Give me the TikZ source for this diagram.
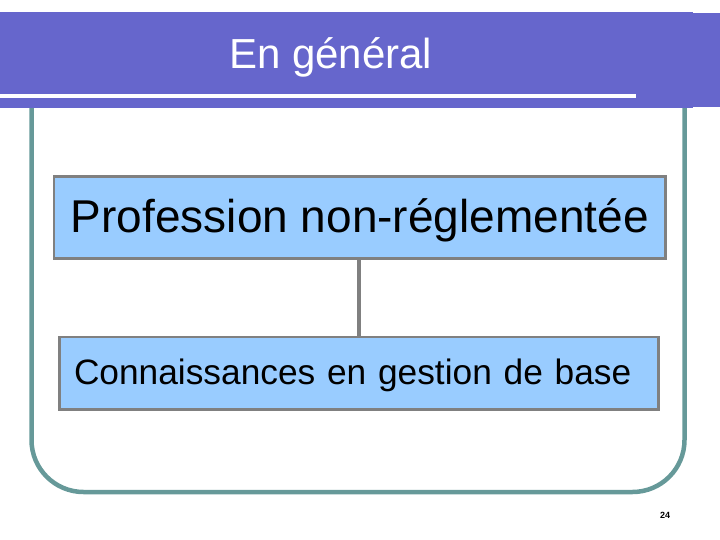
\documentclass[tikz,border=0pt]{standalone}
\usepackage{fontspec}
\setmainfont{Liberation Sans}
\definecolor{barpurple}{HTML}{6666CC}
\definecolor{frameteal}{HTML}{669999}
\definecolor{boxblue}{HTML}{99CCFF}
\definecolor{boxgray}{HTML}{808080}
\begin{document}
\begin{tikzpicture}[x=1pt,y=-1pt,
    orgbox/.style={draw=boxgray,fill=boxblue,line width=2.8pt,inner sep=0pt,text=black},
    link/.style={draw=boxgray,line width=3.4pt}]
    \useasboundingbox (0,0) rectangle (720,540);
    % rounded frame below the title bar
    \draw[frameteal,line width=4.5pt,rounded corners=52pt] (31.5,104) |- (684.5,492) -- (684.5,104);
    % title bar
    \fill[barpurple] (0,12) rectangle (692.5,108);
    \fill[barpurple] (692,13.5) rectangle (720,107);
    \fill[white] (0,94.5) rectangle (636,98.5);
    \node[anchor=base,text=white,font=\fontsize{42}{46}\selectfont] (title) at (330.7,69) {En général};
    % boxes
    \node[orgbox,minimum width=611.7pt,minimum height=82.4pt,text height=30.4pt,text depth=0pt,
        font=\fontsize{46}{50}\selectfont] (prof) at (359.8,217.5) {Profession non-réglementée};
    \node[orgbox,minimum width=599.4pt,minimum height=72.4pt,text width=570pt,align=left,
        text height=21.6pt,text depth=0pt,font=\fontsize{35.3}{40}\selectfont] (conn) at (359,373.2)
        {Connaissances en gestion de base};
    \draw[link] (prof.south -| 359,0) -- (conn.north -| 359,0);
    \node[anchor=base,font=\fontsize{9}{10}\selectfont\bfseries] (pagenum) at (665,518.3) {24};
\end{tikzpicture}
\end{document}
